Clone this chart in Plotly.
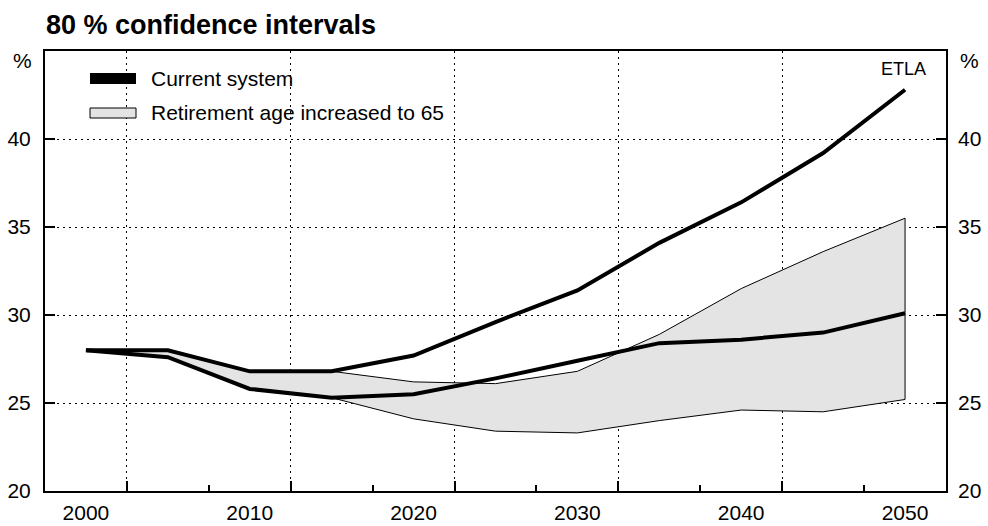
import plotly.graph_objects as go

# Pension contribution rate scenarios, % of wage bill
years = [2000, 2005, 2010, 2015, 2020, 2025, 2030, 2035, 2040, 2045, 2050]
current_system = [28.0, 28.0, 26.8, 26.8, 27.7, 29.6, 31.4, 34.1, 36.4, 39.2, 42.8]
retirement_65 = [28.0, 27.6, 25.8, 25.3, 25.5, 26.4, 27.4, 28.4, 28.6, 29.0, 30.1]
ci_upper = [28.0, 28.0, 26.8, 26.8, 26.2, 26.1, 26.8, 28.9, 31.5, 33.6, 35.5]
ci_lower = [28.0, 27.6, 25.8, 25.3, 24.1, 23.4, 23.3, 24.0, 24.6, 24.5, 25.2]

# decade labels sit half a period left of the gridded tick positions
label_text = ["2000", "2010", "2020", "2030", "2040", "2050"]
grid_years = [2002.5, 2012.5, 2022.5, 2032.5, 2042.5, 2052.5]
minor_years = [2007.5, 2017.5, 2027.5, 2037.5, 2047.5]
y_ticks = [20, 25, 30, 35, 40]

title_text = "80 % confidence intervals"
legend_labels = ["Current system", "Retirement age increased to 65"]
source_text = "ETLA"

W, H = 988, 526
M = dict(l=45, r=42, t=51, b=35)
X_RANGE = [1997.5, 2052.5]
Y_RANGE = [20, 45]
FONT = "Liberation Sans, Arial, sans-serif"
FS = 21
PLOT_W = W - M["l"] - M["r"]
LABEL_SHIFT = int(round(-2.5 * PLOT_W / (X_RANGE[1] - X_RANGE[0])))


def px_x(px):
    return (px - M["l"]) / PLOT_W


def px_y(py):
    return (H - M["b"] - py) / (H - M["t"] - M["b"])


fig = go.Figure()

# 80 % confidence band for the reform scenario
fig.add_trace(go.Scatter(
    x=years + years[::-1],
    y=ci_upper + ci_lower[::-1],
    fill="toself", fillcolor="#e4e4e4",
    line=dict(color="black", width=1),
    mode="lines", showlegend=False, hoverinfo="skip",
))
fig.add_trace(go.Scatter(
    x=years, y=retirement_65, mode="lines",
    line=dict(color="black", width=4), showlegend=False,
))
fig.add_trace(go.Scatter(
    x=years, y=current_system, mode="lines",
    line=dict(color="black", width=4), showlegend=False,
    yaxis="y2",
))

axis_common = dict(
    automargin=False,
    ticks="inside", tickcolor="black", tickwidth=2,
    tickfont=dict(family=FONT, size=FS, color="black"),
    zeroline=False,
)

fig.update_layout(
    width=W, height=H, margin=M,
    paper_bgcolor="white", plot_bgcolor="white",
    showlegend=False,
    xaxis=dict(
        **axis_common, range=X_RANGE, tickmode="array",
        tickvals=grid_years, ticktext=label_text,
        ticklabelshift=LABEL_SHIFT, ticklabelstandoff=2,
        showline=True, linecolor="black", linewidth=2, mirror=True,
        ticklen=10,
        showgrid=True, gridcolor="black", gridwidth=1, griddash="2px,4px",
        minor=dict(tickmode="array", tickvals=minor_years, ticks="inside",
                   ticklen=6, tickwidth=2, tickcolor="black", showgrid=False),
    ),
    yaxis=dict(
        **axis_common, range=Y_RANGE, tickmode="array", tickvals=y_ticks,
        showline=True, linecolor="black", linewidth=2, mirror=True,
        ticklen=10, ticklabelstandoff=8,
        showgrid=True, gridcolor="black", gridwidth=1, griddash="2px,4px",
    ),
    yaxis2=dict(
        **axis_common, range=Y_RANGE, overlaying="y", anchor="x", side="right",
        tickmode="array", tickvals=y_ticks, ticklen=10, showgrid=False,
        showline=False, ticklabelstandoff=11,
    ),
)

# Legend swatches
fig.add_shape(type="rect", xref="paper", yref="paper",
              x0=px_x(90), x1=px_x(136), y0=px_y(84), y1=px_y(73),
              fillcolor="black", line=dict(color="black", width=0))
fig.add_shape(type="rect", xref="paper", yref="paper",
              x0=px_x(90), x1=px_x(136), y0=px_y(118), y1=px_y(108),
              fillcolor="#e4e4e4", line=dict(color="black", width=1))

notes = [
    (legend_labels[0], 149, 78, "left", FS),
    (legend_labels[1], 149, 113, "left", FS),
    (source_text, 928, 69, "right", 18),
    ("%", 22, 60, "center", FS),
    ("%", 969, 60, "center", FS),
    ("<b>" + title_text + "</b>", 44, 25, "left", 27),
]
for text, x, y, anchor, size in notes:
    fig.add_annotation(
        text=text, xref="paper", yref="paper", x=px_x(x), y=px_y(y),
        xanchor=anchor, yanchor="middle", showarrow=False,
        font=dict(family=FONT, size=size, color="black"),
    )

fig.write_html("out.html")
